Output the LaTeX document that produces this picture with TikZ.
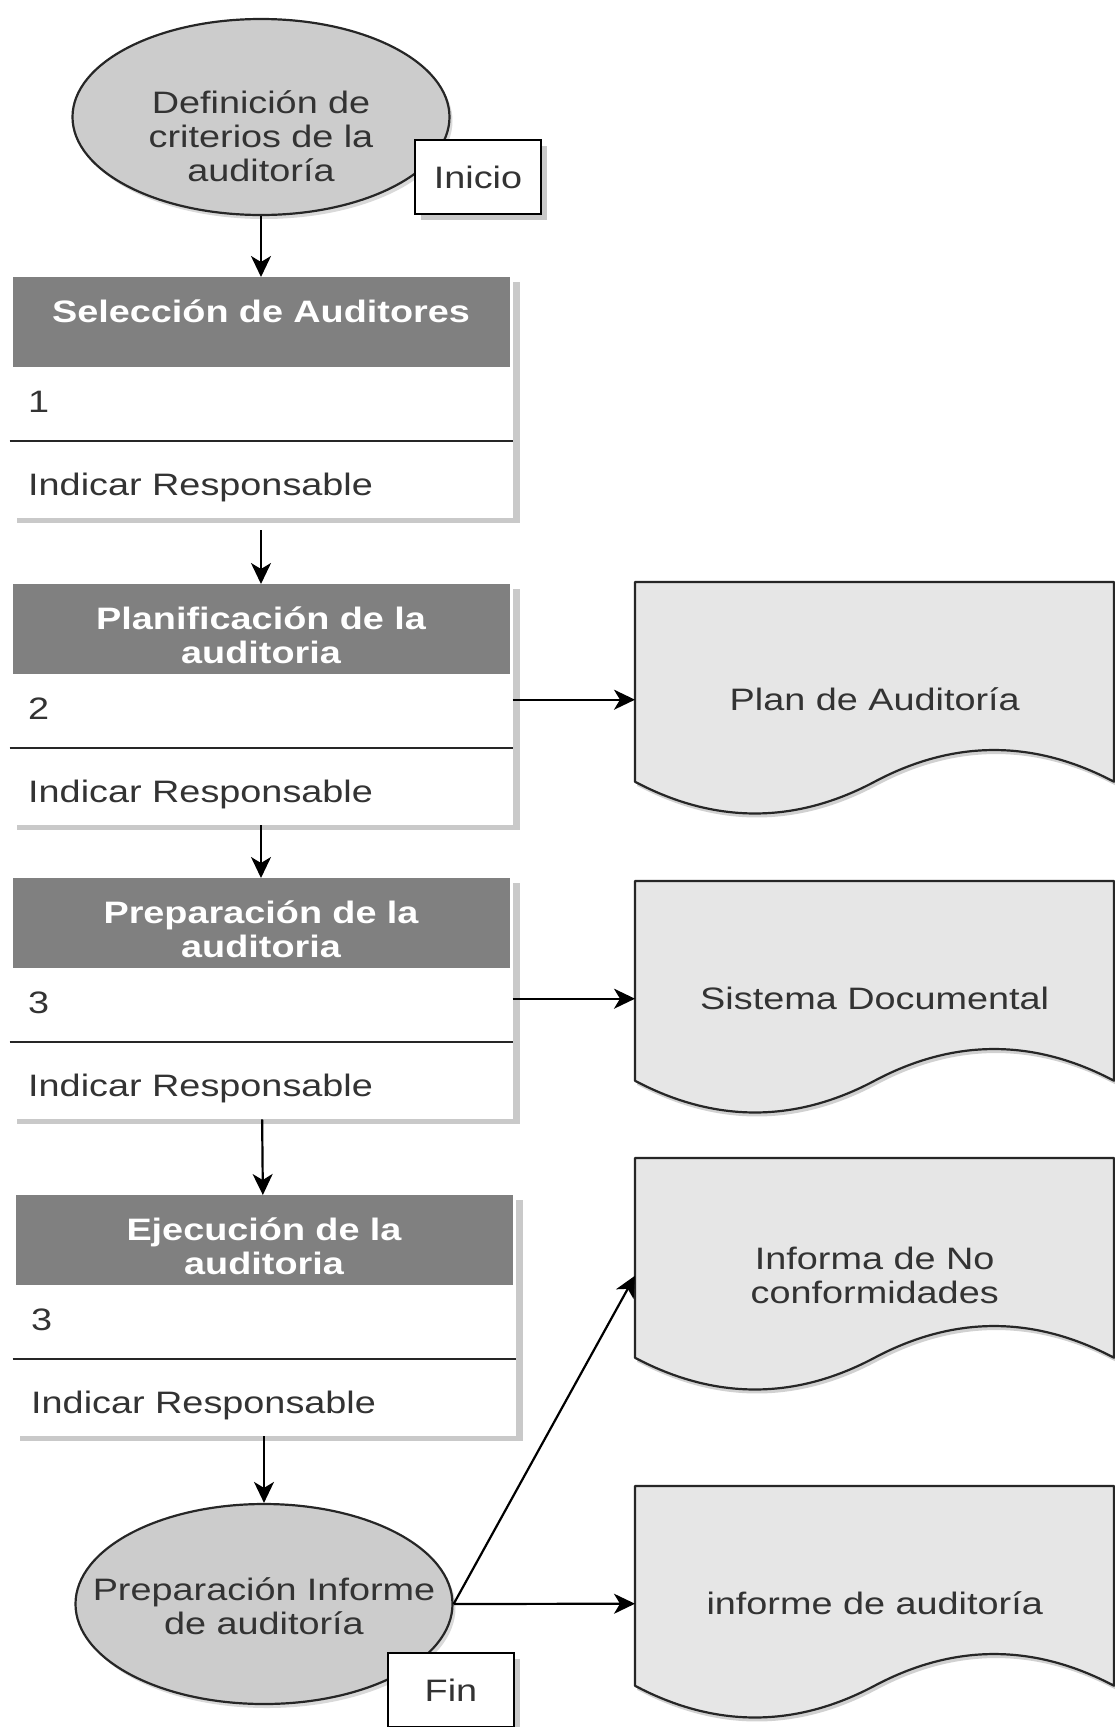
\documentclass[tikz,border=0pt]{standalone}
\usepackage{fontspec}
\setmainfont{Liberation Sans}[FakeStretch=1.22]
\usetikzlibrary{arrows.meta,shapes.geometric,shadows,backgrounds}

\definecolor{ovalgray}{HTML}{CCCCCC}
\definecolor{headgray}{HTML}{808080}
\definecolor{docgray}{HTML}{E6E6E6}
\definecolor{shadegray}{HTML}{C9C9C9}
\definecolor{inkgray}{HTML}{333333}

\tikzset{docline/.style={fill=docgray, draw=black!85, line width=2.2pt, line join=round}}

% sheet with a wavy lower edge, hung from the north west corner of a node
\newcommand{\docpath}{(0,0) -- (479,0) -- (479,199.75)
  .. controls (399,157.45) and (319,157.45) .. (239.5,199.75)
  .. controls (160,242.05) and (80,242.05) .. (0,199.75) -- cycle}
\newcommand{\docsheet}[1]{%
  \begin{scope}[shift={(#1.north west)}]
    \fill[black!18, xshift=2pt, yshift=-4pt] \docpath;
    \filldraw[docline] \docpath;
  \end{scope}}

\begin{document}
\begin{tikzpicture}[x=1pt, y=-1pt,
    font=\fontsize{31}{34}\selectfont, text=inkgray,
    flow/.style={draw=black, line width=2.2pt, -{Stealth[length=21pt, width=20pt, inset=6pt]}},
    oval/.style={ellipse, draw=black!85, line width=2.2pt, fill=ovalgray, inner sep=0pt,
        minimum width=377pt, minimum height=196pt,
        drop shadow={shadow xshift=3pt, shadow yshift=-4pt, fill=black!15, opacity=1}},
    ovaltxt/.style={anchor=base, inner sep=0pt, text width=360pt, align=center},
    tagbox/.style={rectangle, draw=black, line width=2.2pt, fill=white,
        minimum width=126pt, minimum height=74pt,
        drop shadow={shadow xshift=6pt, shadow yshift=-6pt, fill=shadegray, opacity=1}},
    stepbody/.style={rectangle, fill=white, anchor=north, minimum width=503pt, minimum height=241pt,
        drop shadow={shadow xshift=7pt, shadow yshift=-5pt, fill=shadegray, opacity=1}},
    stephead/.style={rectangle, fill=headgray, anchor=north, minimum width=497pt, minimum height=90pt},
    steptitle/.style={anchor=base, inner sep=0pt, text width=480pt, align=center, text=white,
        font=\fontsize{31}{34}\selectfont\bfseries},
    cell/.style={anchor=base west, inner sep=0pt},
    rowline/.style={line width=2pt, black!85},
    docbox/.style={anchor=north west, minimum width=479pt, minimum height=235pt, inner sep=0pt, align=center}
  ]
  \useasboundingbox (0,0) rectangle (1115,1727);

  % inicio
  \node[oval] (crit) at (261,117) {};
  \node[ovaltxt] (crittxt) at (261,113) {Definición de\\criterios de la\\auditoría};
  \node[tagbox] (inicio) at (478,177) {Inicio};

  % pasos
  \foreach \yy/\xx/\nr/\ttl [count=\k] in {277/261/1/{Selección de Auditores},
      584/261/2/{Planificación de la\\auditoria}, 878/261/3/{Preparación de la\\auditoria},
      1195/264/3/{Ejecución de la\\auditoria}} {
    \node[stepbody] (b\k) at (\xx,\yy) {};
    \node[stephead] (h\k) at (b\k.north) {};
    \node[steptitle] (t\k) at (\xx,\yy+45) {\ttl};
    \node[cell] (n\k) at (\xx-233,\yy+135) {\nr};
    \node[cell] (r\k) at (\xx-233,\yy+218) {Indicar Responsable};
    \draw[rowline] (\xx-251.5,\yy+164) -- (\xx+251.5,\yy+164);
  }

  % fin
  \node[oval, minimum height=200pt] (prep) at (264,1604) {};
  \node[ovaltxt] (preptxt) at (264,1600) {Preparación Informe\\de auditoría};
  \node[tagbox] (fin) at (451,1690) {Fin};

  % documentos
  \node[docbox] (d1) at (635,582) {Plan de Auditoría};
  \node[docbox] (d2) at (635,881) {Sistema Documental};
  \node[docbox] (d3) at (635,1158) {Informa de No\\conformidades};
  \node[docbox] (d4) at (635,1486) {informe de auditoría};
  \begin{scope}[on background layer]
    \foreach \dn in {d1,d2,d3,d4} {\docsheet{\dn}}
  \end{scope}

  \draw[flow] (crit) -- (b1);
  \draw[flow, shorten <=12pt] (b1) -- (b2);
  \draw[flow] (b2) -- (b3);
  \draw[flow] (b3) -- (b4);
  \draw[flow] (b4) -- (prep);
  \draw[flow] (b2.east |- d1.west) -- (d1.west);
  \draw[flow] (b3.east |- d2.west) -- (d2.west);
  \draw[flow] (prep.east) -- (d3.west);
  \draw[flow] (prep.east) -- (d4.west);
\end{tikzpicture}
\end{document}
